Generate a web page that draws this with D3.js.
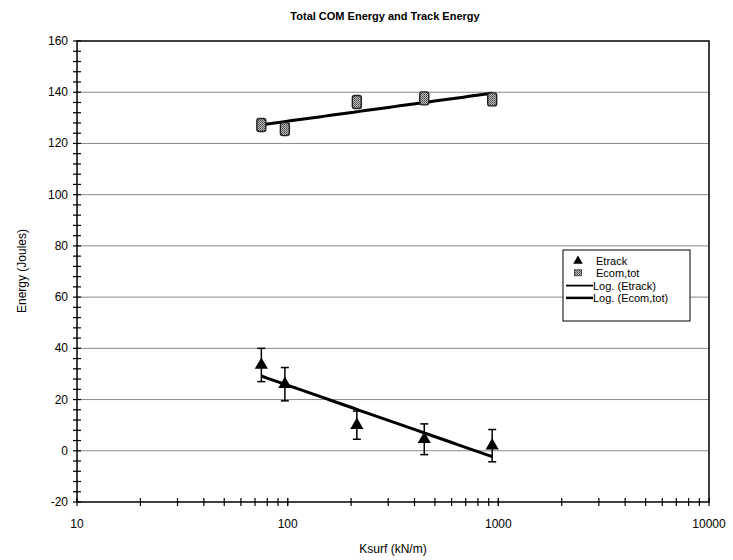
<!DOCTYPE html>
<html>
<head>
<meta charset="utf-8">
<script src="https://cdn.jsdelivr.net/npm/d3@7"></script>
<style>
body{margin:0;background:#fff;}
text{font-family:Arial,"Liberation Sans",sans-serif;}
</style>
</head>
<body>
<svg id="chart" width="733" height="560"></svg>
<script>
/*数据*/
var ksurf=[75,97,213,445,935];
var etrack=[33.5,26,10,4.5,2];
var etrackErr=[6.5,6.5,5.5,6,6.3];
var ecom=[127.2,125.6,136.2,137.6,137.2];
var ecomErr=[2,2,2,1.5,2];
var xTicks=[10,100,1000,10000];
var yTicks=[-20,0,20,40,60,80,100,120,140,160];
var legendNames=["Etrack","Ecom,tot","Log. (Etrack)","Log. (Ecom,tot)"];

var svg=d3.select("#chart");
var x=d3.scaleLog().domain([10,10000]).range([77,709]);
var y=d3.scaleLinear().domain([-20,160]).range([502,41]);

/*对数拟合 y=a*ln(x)+b*/
function logFit(xs,ys){
	var lx=xs.map(function(v){return Math.log(v);});
	var mx=d3.mean(lx),my=d3.mean(ys),sxx=0,sxy=0;
	lx.forEach(function(v,i){
		sxx+=(v-mx)*(v-mx);
		sxy+=(v-mx)*(ys[i]-my);
	});
	var a=sxy/sxx,b=my-a*mx;
	return function(v){return a*Math.log(v)+b;};
}

//点状填充
var pat=svg.append("defs").append("pattern").attr("id","dots")
	.attr("width",2).attr("height",2).attr("patternUnits","userSpaceOnUse");
pat.append("rect").attr("width",2).attr("height",2).attr("fill","#bdbdbd");
pat.append("rect").attr("width",1).attr("height",1).attr("fill","#444");
pat.append("rect").attr("x",1).attr("y",1).attr("width",1).attr("height",1).attr("fill","#666");

/*网格线*/
svg.append("g").selectAll("line").data(yTicks.slice(1,-1)).enter().append("line")
	.attr("x1",x(10)).attr("x2",x(10000))
	.attr("y1",function(d){return y(d);}).attr("y2",function(d){return y(d);})
	.attr("stroke","#8a8a8a").attr("stroke-width",1);

//边框
svg.append("rect").attr("x",x(10)).attr("y",y(160))
	.attr("width",x(10000)-x(10)).attr("height",y(-20)-y(160))
	.attr("fill","none").attr("stroke","#000").attr("stroke-width",1.5);

/*Y轴*/
var yMinor=d3.range(-20,160.1,4);
svg.append("g").selectAll("line").data(yMinor).enter().append("line")
	.attr("x1",x(10)-4).attr("x2",x(10)+4)
	.attr("y1",function(d){return y(d);}).attr("y2",function(d){return y(d);})
	.attr("stroke","#000").attr("stroke-width",1.2);
svg.append("g").selectAll("text").data(yTicks).enter().append("text")
	.attr("x",x(10)-9).attr("y",function(d){return y(d)+4;})
	.attr("text-anchor","end").attr("font-size",12).text(function(d){return d;});

/*X轴*/
var xMinor=[];
[10,100,1000].forEach(function(dec){
	for(var k=1;k<=10;k++){xMinor.push(dec*k);}
});
svg.append("g").selectAll("line").data(xMinor).enter().append("line")
	.attr("x1",function(d){return x(d);}).attr("x2",function(d){return x(d);})
	.attr("y1",y(-20)-4).attr("y2",y(-20)+4)
	.attr("stroke","#000").attr("stroke-width",1.2);
svg.append("g").selectAll("text").data(xTicks).enter().append("text")
	.attr("x",function(d){return x(d);}).attr("y",y(-20)+26)
	.attr("text-anchor","middle").attr("font-size",12).text(function(d){return d;});

//标题
svg.append("text").attr("x",385).attr("y",20).attr("text-anchor","middle")
	.attr("font-size",11).attr("font-weight","bold").text("Total COM Energy and Track Energy");
svg.append("text").attr("x",393).attr("y",553).attr("text-anchor","middle")
	.attr("font-size",12).text("Ksurf (kN/m)");
svg.append("text").attr("transform","translate(26,271) rotate(-90)").attr("text-anchor","middle")
	.attr("font-size",12).text("Energy (Joules)");

/*误差线*/
function errBars(vals,errs,col){
	var g=svg.append("g");
	ksurf.forEach(function(k,i){
		var cx=x(k),t=y(vals[i]+errs[i]),b=y(vals[i]-errs[i]);
		g.append("line").attr("x1",cx).attr("x2",cx).attr("y1",t).attr("y2",b).attr("stroke",col).attr("stroke-width",1.5);
		g.append("line").attr("x1",cx-4).attr("x2",cx+4).attr("y1",t).attr("y2",t).attr("stroke",col).attr("stroke-width",1.5);
		g.append("line").attr("x1",cx-4).attr("x2",cx+4).attr("y1",b).attr("y2",b).attr("stroke",col).attr("stroke-width",1.5);
	});
}
errBars(etrack,etrackErr,"#000");
errBars(ecom,ecomErr,"#222");

//趋势线
function trend(vals){
	var f=logFit(ksurf,vals);
	var pts=d3.range(0,41).map(function(i){
		return Math.exp(Math.log(ksurf[0])+(Math.log(ksurf[4])-Math.log(ksurf[0]))*i/40);
	});
	svg.append("path").datum(pts)
		.attr("d",d3.line().x(function(d){return x(d);}).y(function(d){return y(f(d));}))
		.attr("fill","none").attr("stroke","#000").attr("stroke-width",3);
}
trend(etrack);
trend(ecom);

/*数据点*/
svg.append("g").selectAll("path").data(ksurf).enter().append("path")
	.attr("d",d3.symbol().type(d3.symbolTriangle).size(75))
	.attr("transform",function(d,i){return "translate("+x(d)+","+y(etrack[i])+")";})
	.attr("fill","#000");
svg.append("g").selectAll("rect").data(ksurf).enter().append("rect")
	.attr("x",function(d){return x(d)-4.5;}).attr("y",function(d,i){return y(ecom[i])-6.5;})
	.attr("width",9).attr("height",13).attr("rx",2.5)
	.attr("fill","url(#dots)").attr("stroke","#222").attr("stroke-width",1.4);

/*图例*/
var lg=svg.append("g").attr("transform","translate(563,250)");
lg.append("rect").attr("width",127).attr("height",71).attr("fill","#fff").attr("stroke","#000").attr("stroke-width",1);
legendNames.forEach(function(name,i){
	var ly=10+i*12.3;
	if(i==0){
		lg.append("path").attr("d",d3.symbol().type(d3.symbolTriangle).size(40))
			.attr("transform","translate(15,"+(ly+1)+")").attr("fill","#000");
	}else if(i==1){
		lg.append("rect").attr("x",11.5).attr("y",ly-2.5).attr("width",7).attr("height",6).attr("fill","url(#dots)").attr("stroke","#333").attr("stroke-width",0.8);
	}else{
		lg.append("line").attr("x1",3).attr("x2",30).attr("y1",ly+1).attr("y2",ly+1)
			.attr("stroke","#000").attr("stroke-width",i==3?2.5:1.8);
	}
	lg.append("text").attr("x",i<2?33:30).attr("y",ly+5).attr("font-size",11).text(name);
});
</script>
</body>
</html>
